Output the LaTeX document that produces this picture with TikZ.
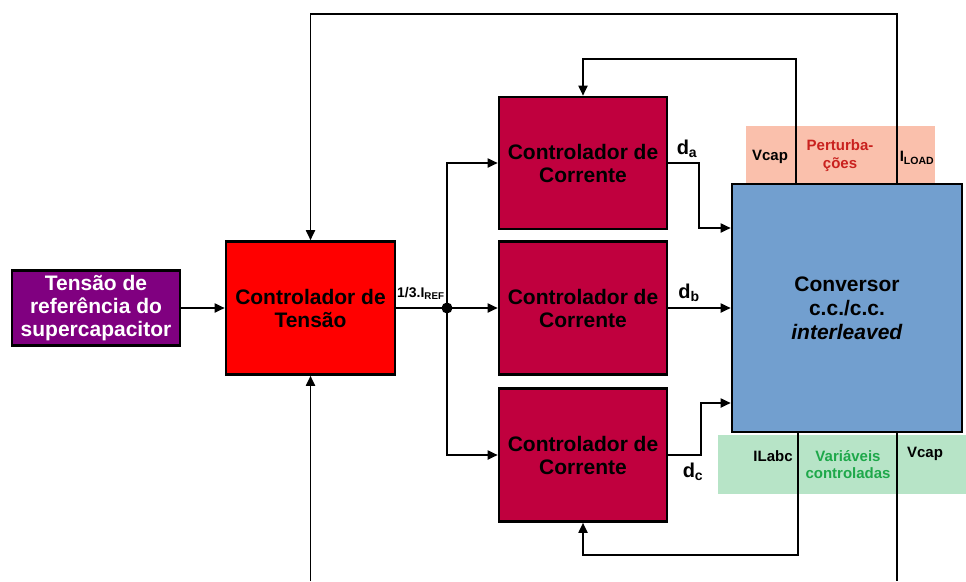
\documentclass[tikz,border=0pt]{standalone}
\usepackage{fontspec}
\setmainfont{Liberation Sans}
\usetikzlibrary{arrows.meta}
\definecolor{purp}{RGB}{128,0,128}
\definecolor{redbox}{RGB}{255,0,0}
\definecolor{crim}{RGB}{192,0,62}
\definecolor{convblue}{RGB}{114,159,207}
\definecolor{salmon}{RGB}{250,192,172}
\definecolor{mint}{RGB}{183,228,199}
\definecolor{pertred}{RGB}{201,33,30}
\definecolor{ctlgreen}{RGB}{30,168,74}
\tikzset{
  blk/.style={draw=black, line width=2.6pt, align=center, inner sep=0pt,
    font=\bfseries\fontsize{21}{23}\selectfont},
  wire/.style={line width=1.8pt, black},
  arr/.style={wire, -{Triangle[length=10pt,width=9pt]}},
  lbl/.style={font=\bfseries\fontsize{15}{18}\selectfont, align=center, inner sep=0pt},
  dl/.style={font=\bfseries\fontsize{20}{20}\selectfont, inner sep=0pt},
  zone/.style={inner sep=0pt, draw=none}
}
\begin{document}
\begin{tikzpicture}[x=1pt,y=-1pt]
\useasboundingbox (0,0) rectangle (966,581);
% background zones
\node[zone, fill=salmon, minimum width=189pt, minimum height=60pt] (pert) at (840.5,156) {};
\node[zone, fill=mint, minimum width=248pt, minimum height=59pt] (ctl) at (842,464.5) {};
% blocks
\node[blk, fill=purp, text=white, minimum width=168pt, minimum height=75pt] (ref) at (96,308) {Tensão de\\referência do\\supercapacitor};
\node[blk, fill=redbox, minimum width=169pt, minimum height=133pt] (vc) at (310.5,308) {Controlador de\\Tensão};
\node[blk, fill=crim, minimum width=168pt, minimum height=132pt] (cc1) at (583,163) {Controlador de\\Corrente};
\node[blk, fill=crim, minimum width=168pt, minimum height=133pt] (cc2) at (583,308) {Controlador de\\Corrente};
\node[blk, fill=crim, minimum width=168pt, minimum height=133pt] (cc3) at (583,455) {Controlador de\\Corrente};
\node[blk, fill=convblue, minimum width=230pt, minimum height=248pt, font=\bfseries\fontsize{21}{24}\selectfont] (conv) at (847,308) {Conversor\\c.c./c.c.\\\textit{interleaved}};
% junction
\coordinate (j) at (447,308);
\fill (j) circle (5.5pt);
\node[font=\bfseries\fontsize{14}{16}\selectfont, anchor=base west, inner sep=0pt] (iref) at (397,297) {1/3.I\textsubscript{REF}};
% connectors
\draw[arr] (ref.east) -- (vc.west);
\draw[wire] (vc.east) -- (j);
\draw[arr] (j) |- (cc1.west);
\draw[arr] (j) -- (cc2.west);
\draw[arr] (j) |- (cc3.west);
\draw[arr] (cc1.east) -- ++(31,0) |- ([yshift=80pt]conv.west);
\draw[arr] (cc2.east) -- (conv.west);
\draw[arr] (cc3.east) -- ++(33,0) |- ([yshift=-95pt]conv.west);
% feedback loops
\draw[arr] ([xshift=50pt]conv.north) -- ++(0,-169) -| (vc.north);
\draw[arr] ([xshift=-51pt]conv.north) -- ++(0,-124) -| (cc1.north);
\draw[arr] ([xshift=-49pt]conv.south) -- ++(0,122) -| (cc3.south);
\coordinate (vout) at (897,581);
\draw[wire] ([xshift=50pt]conv.south) -- (vout);
\coordinate (vin) at (310.5,581);
\draw[arr] (vin) -- (vc.south);
% d labels
\node[dl] (da) at (687,149) {d\textsubscript{a}};
\node[dl] (db) at (689,293) {d\textsubscript{b}};
\node[dl] (dc) at (693,472) {d\textsubscript{c}};
% zone labels
\node[lbl] (vcap1) at (770,157) {Vcap};
\node[lbl, text=pertred] (ptxt) at (840,156) {Perturba-\\ções};
\node[lbl] (iload) at (917,158) {I\textsubscript{LOAD}};
\node[lbl] (ilabc) at (773,456) {ILabc};
\node[lbl, text=ctlgreen, font=\bfseries\fontsize{15}{17}\selectfont] (vtxt) at (848,464.5) {Variáveis\\controladas};
\node[lbl] (vcap2) at (925,454) {Vcap};
\end{tikzpicture}
\end{document}
